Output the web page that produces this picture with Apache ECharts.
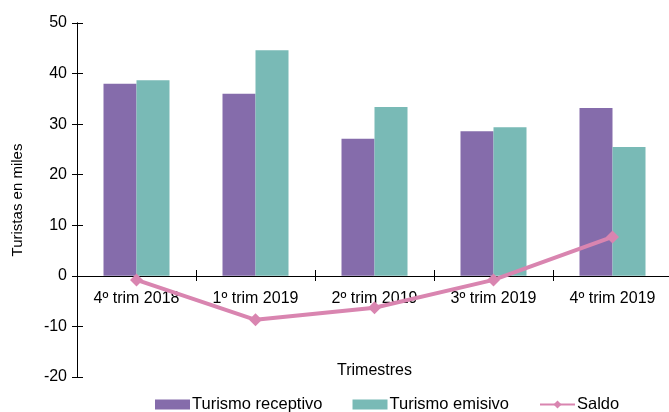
<!DOCTYPE html>
<html>
<head>
<meta charset="utf-8">
<script src="https://cdn.jsdelivr.net/npm/echarts@6/dist/echarts.min.js"></script>
<style>
  html, body { margin: 0; padding: 0; background: #fff; }
  #chart { width: 669px; height: 412px; }
</style>
</head>
<body>
<div id="chart"></div>
<script>
const categories = ["4º trim 2018", "1º trim 2019", "2º trim 2019", "3º trim 2019", "4º trim 2019"];
const receptivo = [38, 36, 27.1, 28.6, 33.2];
const emisivo = [38.7, 44.6, 33.4, 29.4, 25.5];
const saldo = [-0.8, -8.7, -6.3, -0.8, 7.7];

const font = "Liberation Sans";
const chart = echarts.init(document.getElementById("chart"));

// ejes con marcas que cruzan la línea
const tickOut = { show: true, length: 5, lineStyle: { color: "#000", width: 1 } };
const tickIn = { show: true, inside: true, length: 6, lineStyle: { color: "#000", width: 1 } };
// el eje de categorías va sobre el cero (354 px para 70 unidades, 20 por debajo)
const zeroOffset = -101;

chart.setOption({
  animation: false,
  textStyle: { fontFamily: font },
  legend: {
    bottom: -1,
    left: 155,
    padding: 0,
    itemWidth: 35,
    itemHeight: 10,
    itemGap: 30,
    textStyle: { fontFamily: font, fontSize: 16.5, color: "#000", padding: [0, 0, 0, -3] },
    data: [
      { name: "Turismo receptivo", icon: "rect" },
      { name: "Turismo emisivo", icon: "rect" },
      { name: "Saldo" }
    ]
  },
  grid: { left: 77, top: 23, width: 595, height: 354, outerBoundsMode: "none" },
  xAxis: [
    {
      type: "category",
      data: categories,
      position: "bottom",
      offset: zeroOffset,
      name: "Trimestres",
      nameLocation: "middle",
      nameGap: 87,
      nameTextStyle: { fontFamily: font, fontSize: 16, color: "#000" },
      axisLine: { onZero: false, lineStyle: { color: "#000", width: 1 } },
      axisTick: tickOut,
      axisLabel: { fontFamily: font, fontSize: 16, color: "#000", margin: 15 },
      splitLine: { show: false }
    },
    {
      type: "category",
      data: categories,
      position: "bottom",
      offset: zeroOffset,
      axisLine: { onZero: false, lineStyle: { color: "#000", width: 1 } },
      axisTick: tickIn,
      axisLabel: { show: false },
      splitLine: { show: false }
    }
  ],
  yAxis: [
    {
      type: "value",
      min: -20,
      max: 50,
      interval: 10,
      name: "Turistas en miles",
      nameLocation: "middle",
      nameGap: 52,
      nameTextStyle: { fontFamily: font, fontSize: 15, color: "#000" },
      axisLine: { show: true, onZero: false, lineStyle: { color: "#000", width: 1 } },
      axisTick: tickOut,
      axisLabel: { fontFamily: font, fontSize: 16, color: "#000", margin: 10 },
      splitLine: { show: false }
    },
    {
      type: "value",
      min: -20,
      max: 50,
      interval: 10,
      position: "left",
      axisLine: { show: true, onZero: false, lineStyle: { color: "#000", width: 1 } },
      axisTick: tickIn,
      axisLabel: { show: false },
      splitLine: { show: false }
    }
  ],
  series: [
    {
      name: "Turismo receptivo",
      type: "bar",
      data: receptivo,
      barWidth: 33,
      barGap: "0%",
      itemStyle: { color: "#856cab" }
    },
    {
      name: "Turismo emisivo",
      type: "bar",
      data: emisivo,
      barWidth: 33,
      barGap: "0%",
      itemStyle: { color: "#79bab6" }
    },
    {
      name: "Saldo",
      type: "line",
      data: saldo,
      symbol: "diamond",
      symbolSize: 13,
      z: 5,
      lineStyle: { color: "#d985b0", width: 4 },
      itemStyle: { color: "#d985b0" }
    }
  ]
});
</script>
</body>
</html>
